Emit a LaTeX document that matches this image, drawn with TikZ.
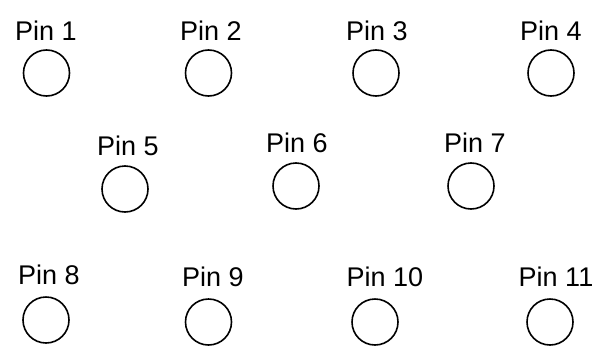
\documentclass[tikz,border=0pt]{standalone}
\usepackage{fontspec}
\setmainfont{Liberation Sans}
\begin{document}
\begin{tikzpicture}[x=1pt,y=-1pt,
  pin/.style={circle,draw=black,line width=1.6pt,minimum size=46pt,inner sep=0pt},
  pinlabel/.style={inner sep=0pt,font=\fontsize{27pt}{29pt}\selectfont}]
\useasboundingbox (0,0) rectangle (601,345);
% row 1
\node[pinlabel] (l1) at (46,31) {Pin 1};
\node[pin] (p1) at (46.5,73) {};
\node[pinlabel] (l2) at (211,31) {Pin 2};
\node[pin] (p2) at (208.5,73) {};
\node[pinlabel] (l3) at (377,31) {Pin 3};
\node[pin] (p3) at (376,73) {};
\node[pinlabel] (l4) at (551,31) {Pin 4};
\node[pin] (p4) at (551,73) {};
% row 2
\node[pinlabel] (l5) at (128,146) {Pin 5};
\node[pin] (p5) at (125,189) {};
\node[pinlabel] (l6) at (297,143) {Pin 6};
\node[pin] (p6) at (296,186) {};
\node[pinlabel] (l7) at (475,143) {Pin 7};
\node[pin] (p7) at (471,186) {};
% row 3
\node[pinlabel] (l8) at (49,275) {Pin 8};
\node[pin] (p8) at (46,320) {};
\node[pinlabel] (l9) at (213,277) {Pin 9};
\node[pin] (p9) at (208.5,322) {};
\node[pinlabel] (l10) at (385,277) {Pin 10};
\node[pin] (p10) at (375,322) {};
\node[pinlabel] (l11) at (556,277) {Pin 11};
\node[pin] (p11) at (550,322) {};
\end{tikzpicture}
\end{document}
